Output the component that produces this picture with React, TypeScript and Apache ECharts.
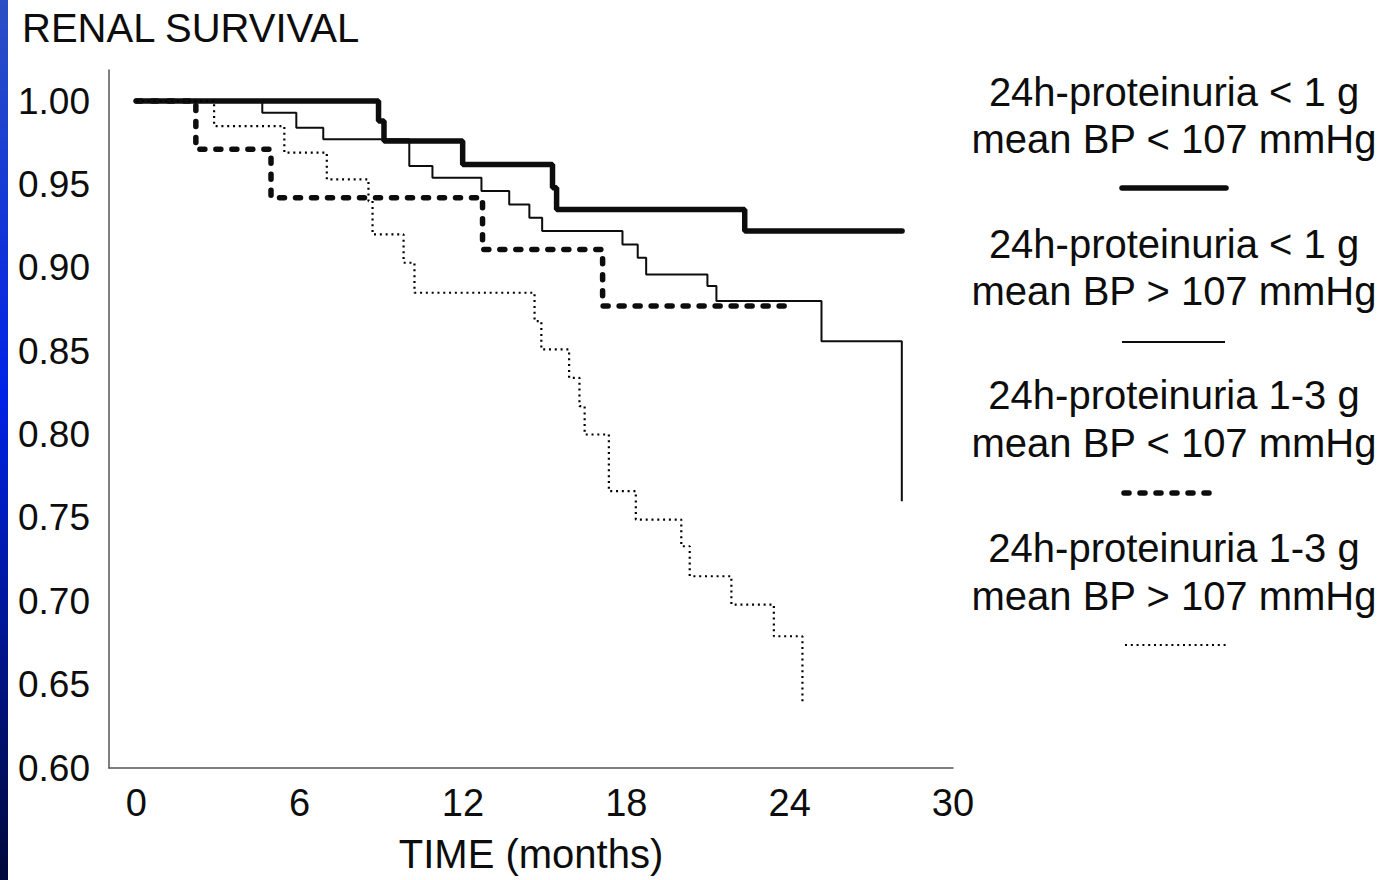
import { useEffect, useRef } from "react";
import * as echarts from "echarts";

// ---------- data ----------
const chartTitle = "RENAL SURVIVAL";
const xAxisName = "TIME (months)";
const xTickValues = [0, 6, 12, 18, 24, 30];
const yTickValues = [0.6, 0.65, 0.7, 0.75, 0.8, 0.85, 0.9, 0.95, 1.0];

const seriesNames = [
  "24h-proteinuria < 1 g, mean BP < 107 mmHg",
  "24h-proteinuria < 1 g, mean BP > 107 mmHg",
  "24h-proteinuria 1-3 g, mean BP < 107 mmHg",
  "24h-proteinuria 1-3 g, mean BP > 107 mmHg",
];
const legendLine1 = [
  "24h-proteinuria < 1 g",
  "24h-proteinuria < 1 g",
  "24h-proteinuria 1-3 g",
  "24h-proteinuria 1-3 g",
];
const legendLine2 = [
  "mean BP < 107 mmHg",
  "mean BP > 107 mmHg",
  "mean BP < 107 mmHg",
  "mean BP > 107 mmHg",
];

// Kaplan-Meier steps: time of event (months) and survival after the event
const lowProtLowBpTime = [0, 8.9, 9.1, 11.99, 15.29, 15.44, 22.35, 28.13];
const lowProtLowBpSurv = [1.0, 0.988, 0.976, 0.962, 0.948, 0.935, 0.922, 0.922];

const lowProtHighBpTime = [0, 4.63, 5.88, 6.87, 10.03, 10.88, 12.68, 13.7, 14.44, 14.91, 17.86, 18.42, 18.73, 20.98, 21.31, 25.17, 28.12];
const lowProtHighBpSurv = [1.0, 0.993, 0.984, 0.977, 0.961, 0.954, 0.946, 0.938, 0.93, 0.922, 0.914, 0.906, 0.896, 0.889, 0.88, 0.856, 0.76];

const midProtLowBpTime = [0, 2.19, 4.95, 12.72, 17.13, 24.0];
const midProtLowBpSurv = [1.0, 0.971, 0.942, 0.911, 0.877, 0.877];

const midProtHighBpTime = [0, 2.86, 5.44, 7.0, 8.53, 8.68, 9.82, 10.22, 14.63, 14.88, 15.9, 16.28, 16.47, 17.36, 18.35, 20.02, 20.33, 21.86, 23.42, 24.47];
const midProtHighBpSurv = [1.0, 0.985, 0.969, 0.953, 0.94, 0.92, 0.903, 0.885, 0.868, 0.851, 0.834, 0.817, 0.8, 0.766, 0.749, 0.733, 0.715, 0.698, 0.679, 0.639];

// ---------- helpers ----------
const pair = (t: number[], s: number[]) => t.map((x, i) => [x, s[i]]);

const INK = "#0d0d0d";
const FONT = "'Liberation Sans', Arial, Helvetica, sans-serif";

const lineStyles: any[] = [
  { color: INK, width: 5.5, type: "solid", cap: "round" },
  { color: INK, width: 2, type: "solid" },
  { color: INK, width: 5.5, type: [5, 11], cap: "round" },
  { color: "#000", width: 2.2, type: [2, 3.8] },
];

export default function App() {
  const ref = useRef<HTMLDivElement>(null);

  useEffect(() => {
    if (!ref.current) return;
    const chart = echarts.init(ref.current, undefined, { renderer: "svg" });

    const datasets = [
      pair(lowProtLowBpTime, lowProtLowBpSurv),
      pair(lowProtHighBpTime, lowProtHighBpSurv),
      pair(midProtLowBpTime, midProtLowBpSurv),
      pair(midProtHighBpTime, midProtHighBpSurv),
    ];
    const drawOrder = [3, 1, 2, 0];

    const legendCenterX = 1174;
    const legendTop1 = [92, 244, 395, 548];
    const legendTop2 = [139, 291, 443, 596];
    const sampleY = [188, 342, 493, 645];
    const sampleX = [
      [1122, 1226],
      [1122, 1225],
      [1124, 1216],
      [1125, 1227],
    ];

    const graphics: any[] = [
      {
        type: "rect",
        shape: { x: 0, y: 0, width: 8, height: 880 },
        style: {
          fill: new echarts.graphic.LinearGradient(0, 0, 0, 1, [
            { offset: 0, color: "#2b50c4" },
            { offset: 0.45, color: "#0022e6" },
            { offset: 1, color: "#00093a" },
          ]),
        },
        silent: true,
      },
      {
        type: "text",
        x: 22,
        y: 28,
        style: {
          text: chartTitle,
          fontSize: 40,
          fontFamily: FONT,
          fill: INK,
          align: "left",
          verticalAlign: "middle",
        },
      },
    ];

    seriesNames.forEach((_, i) => {
      graphics.push({
        type: "text",
        x: legendCenterX,
        y: legendTop1[i],
        style: {
          text: legendLine1[i],
          fontSize: 40,
          fontFamily: FONT,
          fill: INK,
          align: "center",
          verticalAlign: "middle",
        },
      });
      graphics.push({
        type: "text",
        x: legendCenterX,
        y: legendTop2[i],
        style: {
          text: legendLine2[i],
          fontSize: 40,
          fontFamily: FONT,
          fill: INK,
          align: "center",
          verticalAlign: "middle",
        },
      });
      const ls = lineStyles[i];
      graphics.push({
        type: "line",
        shape: { x1: sampleX[i][0], y1: sampleY[i], x2: sampleX[i][1], y2: sampleY[i] },
        style: {
          stroke: ls.color,
          lineWidth: ls.width,
          lineDash: ls.type === "solid" ? null : ls.type,
          lineCap: ls.cap || "butt",
        },
        silent: true,
      });
    });

    chart.setOption({
      animation: false,
      backgroundColor: "#ffffff",
      textStyle: { fontFamily: FONT, color: INK },
      grid: { left: 109, top: 70, width: 844, height: 698 },
      xAxis: {
        type: "value",
        min: -1,
        max: 30,
        name: xAxisName,
        nameLocation: "middle",
        nameGap: 66,
        nameTextStyle: { fontSize: 40, color: INK, fontFamily: FONT },
        axisLine: { show: true, onZero: false, lineStyle: { color: "#555", width: 1.5 } },
        axisTick: { show: false },
        splitLine: { show: false },
        axisLabel: {
          customValues: xTickValues,
          fontSize: 38,
          color: INK,
          margin: 16,
          fontFamily: FONT,
          formatter: (v: number) => String(v),
        },
      },
      yAxis: {
        type: "value",
        min: 0.6,
        max: 1.0186,
        axisLine: { show: true, onZero: false, lineStyle: { color: "#555", width: 1.5 } },
        axisTick: { show: false },
        splitLine: { show: false },
        axisLabel: {
          customValues: yTickValues,
          fontSize: 37,
          color: INK,
          margin: 19,
          fontFamily: FONT,
          formatter: (v: number) => v.toFixed(2),
        },
      },
      series: drawOrder.map((i) => ({
        name: seriesNames[i],
        type: "line",
        step: "end",
        data: datasets[i],
        symbol: "none",
        lineStyle: lineStyles[i],
        silent: true,
        z: 2 + i,
      })),
      graphic: graphics,
    });

    return () => chart.dispose();
  }, []);

  return (
    <div
      ref={ref}
      style={{
        position: "fixed",
        left: 0,
        top: 0,
        width: 1387,
        height: 880,
        background: "#fff",
      }}
    />
  );
}
